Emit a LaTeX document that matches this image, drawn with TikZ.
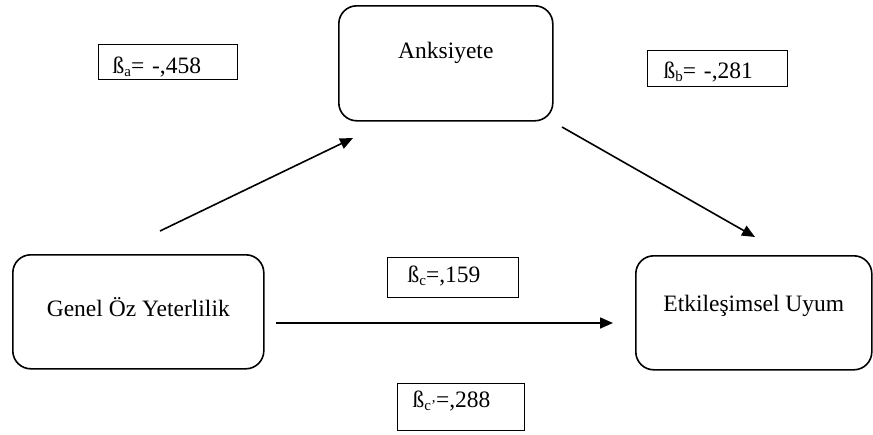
\documentclass[tikz,border=0pt]{standalone}
\usepackage{fontspec}
\setmainfont{Liberation Serif}
\usetikzlibrary{arrows.meta}

% lowered index letter after the beta sign
\newcommand{\lowidx}[1]{\raisebox{-0.3ex}{\fontsize{15}{15}\selectfont #1}}

\tikzset{
  varbox/.style={draw, line width=1.6pt, rounded corners=18pt, inner sep=0pt,
    anchor=north west, align=center},
  coefbox/.style={draw, line width=1.3pt, inner ysep=0pt, anchor=north west,
    align=left},
  path arrow/.style={line width=1.6pt, -{Triangle[length=13pt,width=11pt]}}
}

\begin{document}
\begin{tikzpicture}[x=1pt, y=-1pt, font=\fontsize{23.5}{28}\selectfont]
  \useasboundingbox (0,0) rectangle (873,434);

  % variables
  \node[varbox, minimum width=214pt, text height=53pt, text depth=62pt]
    (anx) at (338,5) {Anksiyete};
  \node[varbox, minimum width=251pt, text height=62pt, text depth=52pt]
    (gen) at (12,254) {Genel Öz Yeterlilik};
  \node[varbox, minimum width=236pt, text height=56pt, text depth=58pt]
    (etk) at (635,255) {Etkileşimsel Uyum};

  % path coefficients
  \node[coefbox, inner xsep=14pt, text width=111pt, text height=29pt, text depth=6pt]
    (ba) at (98,44) {ß\lowidx{a}= -,458};
  \node[coefbox, inner xsep=16pt, text width=108pt, text height=28pt, text depth=8pt]
    (bb) at (647,50) {ß\lowidx{b}= -,281};
  \node[coefbox, inner xsep=20pt, text width=91pt, text height=25pt, text depth=15pt]
    (bc) at (387,257) {ß\lowidx{c}=,159};
  \node[coefbox, inner xsep=15pt, text width=97pt, text height=24pt, text depth=23pt]
    (bcp) at (397,383) {ß\lowidx{c'}=,288};

  % arrow end points
  \coordinate (a1) at (160,231);
  \coordinate (a2) at (353,138);
  \coordinate (b1) at (562,127);
  \coordinate (b2) at (755,237);
  \coordinate (c1) at (276,323);
  \coordinate (c2) at (613,323);

  \draw[path arrow] (a1) -- (a2);
  \draw[path arrow] (b1) -- (b2);
  \draw[path arrow] (c1) -- (c2);
\end{tikzpicture}
\end{document}
